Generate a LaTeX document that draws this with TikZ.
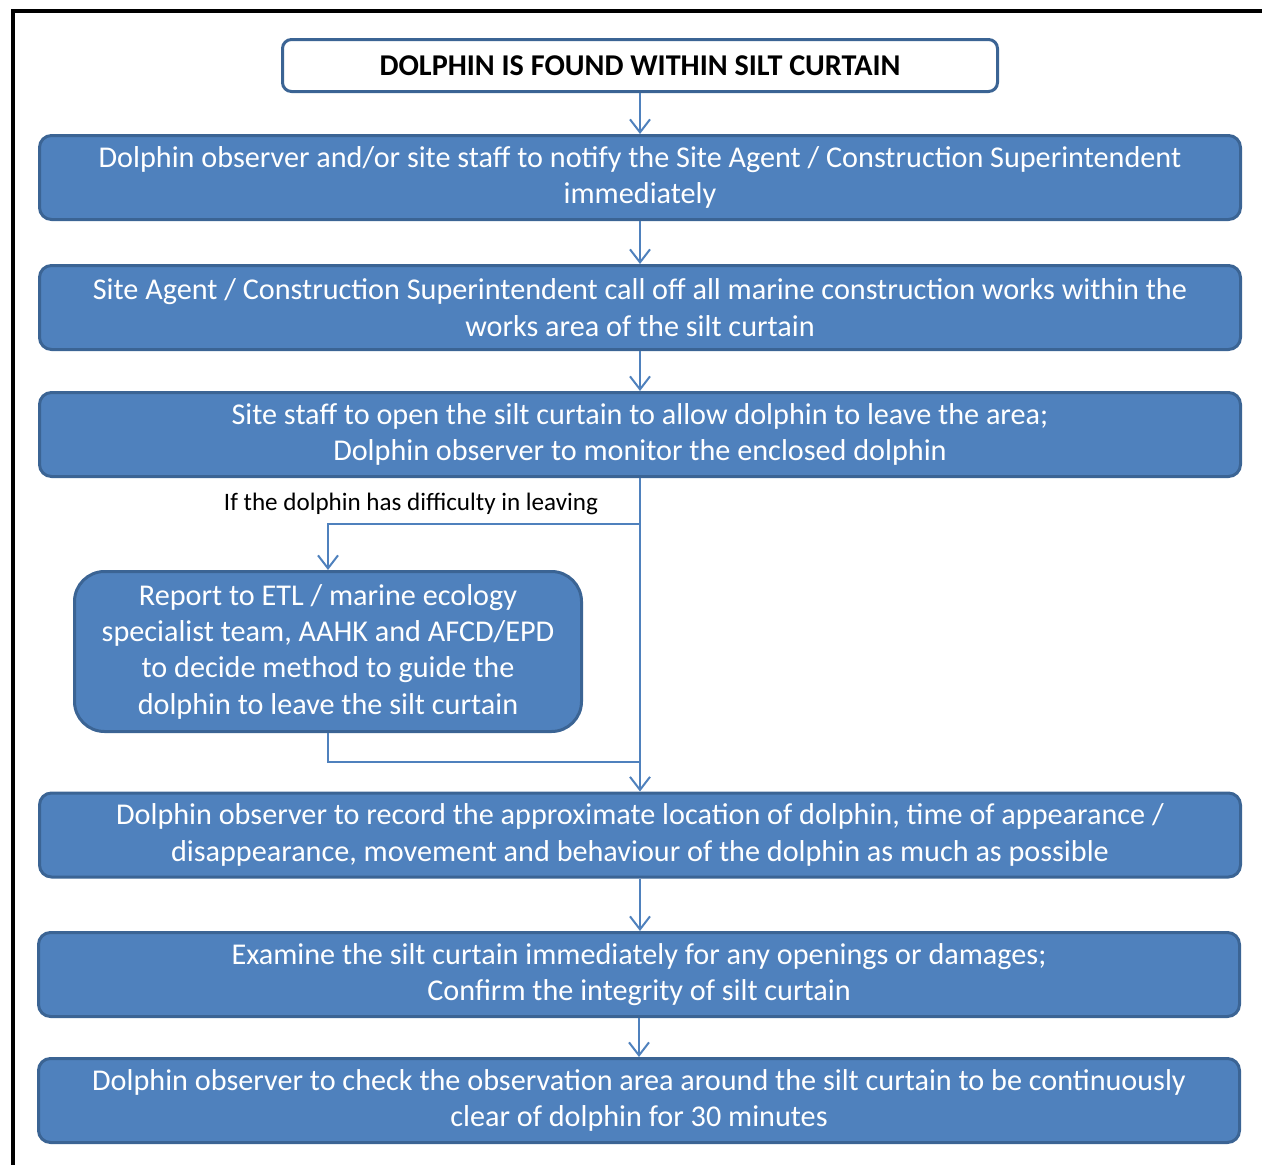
\documentclass[tikz,border=0pt]{standalone}
\usepackage{fontspec}
\setmainfont{Carlito}
\usetikzlibrary{arrows.meta}
\definecolor{boxfill}{HTML}{4F81BD}
\definecolor{boxline}{HTML}{3B6494}
\tikzset{
  step box/.style={draw=boxline, line width=3pt, fill=boxfill, rounded corners=12pt,
    text=white, align=center, inner sep=0pt, minimum width=1201pt, minimum height=84pt,
    font=\fontsize{30.2}{36.3}\selectfont},
  head box/.style={draw=boxline, line width=3pt, fill=white, rounded corners=9pt,
    align=center, inner sep=0pt, minimum width=715pt, minimum height=52pt,
    font=\fontsize{30.2}{34}\selectfont\bfseries},
  side box/.style={step box, rounded corners=30pt, minimum width=507pt, minimum height=160pt},
  flow/.style={draw=boxfill, line width=2pt, -{Straight Barb[length=13pt,width=20pt,line width=2pt]}},
  link/.style={draw=boxfill, line width=2pt}
}
\begin{document}
\begin{tikzpicture}[x=1pt,y=1pt,yscale=-1]
\useasboundingbox (0,0) rectangle (1262,1165);
% outer frame
\draw[line width=4pt] (12.5,1165) -- (12.5,10.5) -- (1262,10.5);

% boxes
\node[head box] (found) at (640,65.5) {DOLPHIN IS FOUND WITHIN SILT CURTAIN};
\node[step box] (notify) at (640,177.5) {Dolphin observer and/or site staff to notify the Site Agent / Construction Superintendent\\immediately};
\node[step box] (calloff) at (640,307.5) {Site Agent / Construction Superintendent call off all marine construction works within the\\works area of the silt curtain};
\node[step box] (opencurtain) at (640,434.5) {Site staff to open the silt curtain to allow dolphin to leave the area;\\Dolphin observer to monitor the enclosed dolphin};
\node[side box] (report) at (328,651.5) {Report to ETL / marine ecology\\specialist team, AAHK and AFCD/EPD\\to decide method to guide the\\dolphin to leave the silt curtain};
\node[step box] (record) at (640,835) {Dolphin observer to record the approximate location of dolphin, time of appearance /\\disappearance, movement and behaviour of the dolphin as much as possible};
\node[step box] (examine) at (639,974.5) {Examine the silt curtain immediately for any openings or damages;\\Confirm the integrity of silt curtain};
\node[step box] (check) at (639,1100.5) {Dolphin observer to check the observation area around the silt curtain to be continuously\\clear of dolphin for 30 minutes};

% label
\node[font=\fontsize{25.1}{28}\selectfont, inner sep=0pt] (leavenote) at (411,504) {If the dolphin has difficulty in leaving};

% connectors
\coordinate (branch) at (640,524);
\coordinate (merge) at (640,762);
\draw[flow] (found) -- (notify);
\draw[flow] (notify) -- (calloff);
\draw[flow] (calloff) -- (opencurtain);
\draw[flow] (opencurtain) -- (record);
\draw[flow] (branch) -| (report.north);
\draw[link] (report.south) |- (merge);
\draw[flow] (record) -- (examine.north -| record.south);
\draw[flow] (examine) -- (check);
\end{tikzpicture}
\end{document}
